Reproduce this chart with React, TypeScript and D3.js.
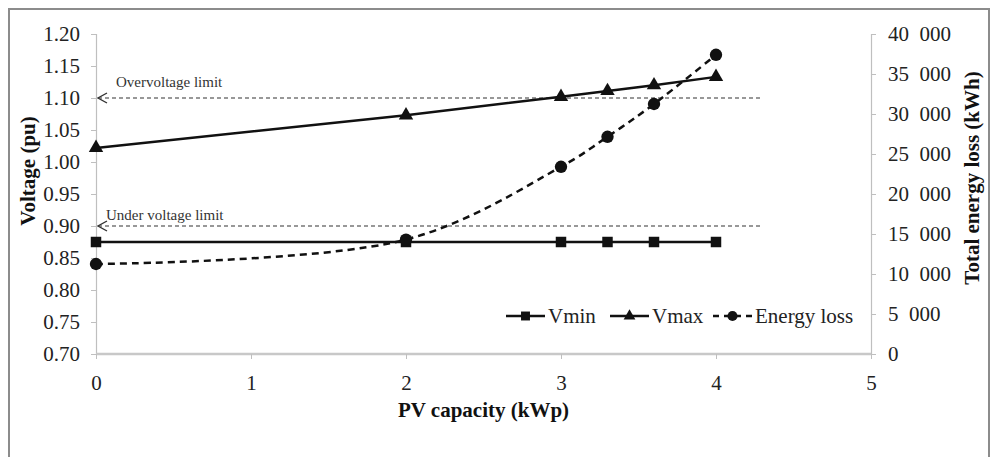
import { useRef, useEffect } from 'react'
import * as d3 from 'd3'

const pvCapacity = [0, 2, 3, 3.3, 3.6, 4]
const vmin = [0.875, 0.875, 0.875, 0.875, 0.875, 0.875]
const vmax = [1.022, 1.073, 1.102, 1.111, 1.12, 1.133]
const energyLoss = [11250, 14300, 23400, 27150, 31250, 37400]
const voltageTicks = [0.7, 0.75, 0.8, 0.85, 0.9, 0.95, 1.0, 1.05, 1.1, 1.15, 1.2]
const energyTicks = [0, 5000, 10000, 15000, 20000, 25000, 30000, 35000, 40000]
const xTicks = [0, 1, 2, 3, 4, 5]
const limits = [
  { name: 'Overvoltage limit', value: 1.1 },
  { name: 'Under voltage limit', value: 0.9 },
]
const limitEnd = 4.3

function App() {
  const ref = useRef<SVGSVGElement>(null)

  useEffect(() => {
    if (!ref.current) return
    const svg = d3.select(ref.current)
    svg.selectAll('*').remove()

    const font = '"Liberation Serif", "DejaVu Serif", serif'
    const margin = { top: 34, right: 122, bottom: 103, left: 96 }
    const width = 993
    const height = 457

    const x = d3.scaleLinear().domain([0, 5]).range([margin.left, width - margin.right])
    const y = d3.scaleLinear().domain([0.7, 1.2]).range([height - margin.bottom, margin.top])
    const y2 = d3.scaleLinear().domain([0, 40000]).range([height - margin.bottom, margin.top])

    const defs = svg.append('defs')
    defs.append('marker')
      .attr('id', 'openArrow')
      .attr('viewBox', '0 0 12 12')
      .attr('refX', 1)
      .attr('refY', 6)
      .attr('markerWidth', 12)
      .attr('markerHeight', 12)
      .attr('markerUnits', 'userSpaceOnUse')
      .attr('orient', 'auto')
      .append('path')
      .attr('d', 'M10,1 L1,6 L10,11')
      .attr('fill', 'none')
      .attr('stroke', '#333')
      .attr('stroke-width', 1.4)

    // outer frame (bottom edge runs off the picture)
    svg.append('rect')
      .attr('x', 9).attr('y', 9)
      .attr('width', 980).attr('height', 460)
      .attr('fill', 'white')
      .attr('stroke', '#8c8c8c')
      .attr('stroke-width', 2)

    const axisColor = '#bfbfbf'

    // left axis
    const gl = svg.append('g')
      .attr('transform', `translate(${margin.left},0)`)
      .call(d3.axisLeft(y).tickValues(voltageTicks).tickSize(5).tickPadding(11).tickFormat(d3.format('.2f') as any))
    // right axis
    const gr = svg.append('g')
      .attr('transform', `translate(${width - margin.right},0)`)
      .call(d3.axisRight(y2).tickValues(energyTicks).tickSize(5).tickPadding(12)
        .tickFormat((d: any) => d3.format(',')(d).replace(',', '\u2002')))
    // bottom axis
    const gb = svg.append('g')
      .attr('transform', `translate(0,${height - margin.bottom})`)
      .call(d3.axisBottom(x).tickValues(xTicks).tickSize(5).tickPadding(16).tickFormat(d3.format('d') as any))

    for (const g of [gl, gr, gb]) {
      g.attr('font-family', null).attr('font-size', null)
      g.select('.domain').attr('stroke', axisColor).attr('stroke-width', 1.2)
      g.selectAll('.tick line').attr('stroke', axisColor)
      g.selectAll('.tick text')
        .style('font-family', font)
        .style('font-size', '21px')
        .attr('fill', '#222')
    }
    gb.select('.domain').attr('stroke-width', 2.5).attr('stroke', '#c8c8c8')
    gb.select('.domain').attr('d', `M${margin.left},0H${width - margin.right}`)

    const title = (t: string, tx: number, ty: number, rot: number) =>
      svg.append('text')
        .attr('transform', `translate(${tx},${ty}) rotate(${rot})`)
        .attr('text-anchor', 'middle')
        .style('font-family', font)
        .style('font-weight', 'bold')
        .style('font-size', '21px')
        .attr('fill', '#111')
        .text(t)

    title('Voltage (pu)', 35, 171, -90)
    title('Total energy loss (kWh)', 979, 178, -90)
    title('PV capacity (kWp)', x(2.5), 417, 0)

    // limit lines
    limits.forEach((l, i) => {
      svg.append('line')
        .attr('x1', x(0) + 2).attr('x2', x(limitEnd))
        .attr('y1', y(l.value)).attr('y2', y(l.value))
        .attr('stroke', '#333')
        .attr('stroke-width', 1.2)
        .attr('stroke-dasharray', '4,3')
        .attr('marker-start', 'url(#openArrow)')
      svg.append('text')
        .attr('x', x(0) + (i === 0 ? 20 : 10))
        .attr('y', y(l.value) - (i === 0 ? 11 : 6))
        .style('font-family', font)
        .style('font-size', '15px')
        .attr('fill', '#333')
        .text(l.name)
    })

    const vLine = d3.line<number>()
      .x((_, i) => x(pvCapacity[i]))
      .y(d => y(d))

    svg.append('path')
      .attr('d', vLine(vmin)!)
      .attr('fill', 'none').attr('stroke', '#111').attr('stroke-width', 2.5)
    svg.append('path')
      .attr('d', vLine(vmax)!)
      .attr('fill', 'none').attr('stroke', '#111').attr('stroke-width', 2.5)

    const eLine = d3.line<number>()
      .x((_, i) => x(pvCapacity[i]))
      .y(d => y2(d))
      .curve(d3.curveCatmullRom.alpha(0.5))
    svg.append('path')
      .attr('d', eLine(energyLoss)!)
      .attr('fill', 'none').attr('stroke', '#111').attr('stroke-width', 2.5)
      .attr('stroke-dasharray', '7,5')

    const square = d3.symbol(d3.symbolSquare, 110)
    const triangle = d3.symbol(d3.symbolTriangle, 90)
    const circle = d3.symbol(d3.symbolCircle, 120)

    svg.selectAll('path.vmin')
      .data(vmin).enter().append('path')
      .attr('class', 'vmin')
      .attr('d', square()!)
      .attr('transform', (d, i) => `translate(${x(pvCapacity[i])},${y(d)})`)
      .attr('fill', '#111')
    svg.selectAll('path.vmax')
      .data(vmax).enter().append('path')
      .attr('class', 'vmax')
      .attr('d', triangle()!)
      .attr('transform', (d, i) => `translate(${x(pvCapacity[i])},${y(d)})`)
      .attr('fill', '#111')
    svg.selectAll('path.eloss')
      .data(energyLoss).enter().append('path')
      .attr('class', 'eloss')
      .attr('d', circle()!)
      .attr('transform', (d, i) => `translate(${x(pvCapacity[i])},${y2(d)})`)
      .attr('fill', '#111')

    // legend
    const legendSquare = d3.symbol(d3.symbolSquare, 80)
    const legendTriangle = d3.symbol(d3.symbolTriangle, 60)
    const legendCircle = d3.symbol(d3.symbolCircle, 80)
    const legend = [
      { name: 'Vmin', sym: legendSquare, dashed: false, x0: 506 },
      { name: 'Vmax', sym: legendTriangle, dashed: false, x0: 610 },
      { name: 'Energy loss', sym: legendCircle, dashed: true, x0: 713 },
    ]
    const ly = 316
    legend.forEach(l => {
      const g = svg.append('g')
      g.append('line')
        .attr('x1', l.x0).attr('x2', l.x0 + 39)
        .attr('y1', ly).attr('y2', ly)
        .attr('stroke', '#111').attr('stroke-width', 2.5)
        .attr('stroke-dasharray', l.dashed ? '6,5' : null)
      g.append('path')
        .attr('d', l.sym()!)
        .attr('transform', `translate(${l.x0 + 19.5},${ly})`)
        .attr('fill', '#111')
      g.append('text')
        .attr('x', l.x0 + 42)
        .attr('y', ly + 7)
        .style('font-family', font)
        .style('font-size', '21px')
        .attr('fill', '#222')
        .text(l.name)
    })
  }, [])

  return (
    <svg ref={ref} width={993} height={457}
      style={{ position: 'absolute', left: 0, top: 0, display: 'block' }} />
  )
}

export default App
